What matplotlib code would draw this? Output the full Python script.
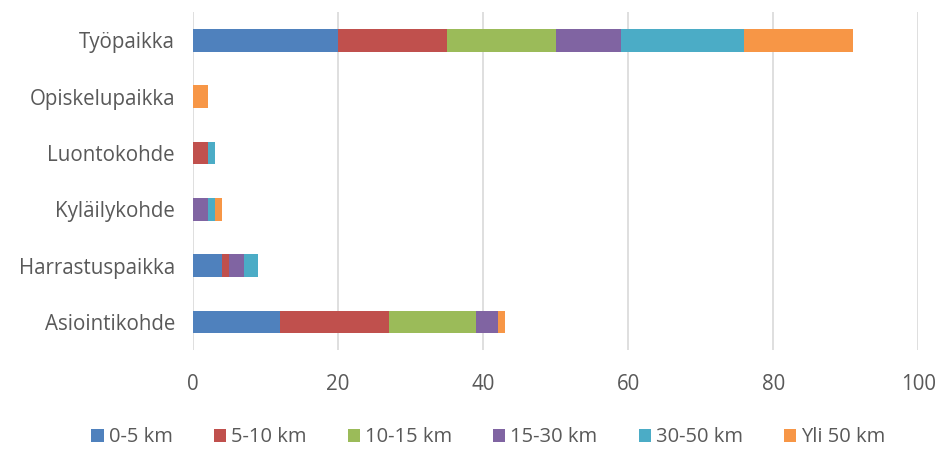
import matplotlib
matplotlib.use('Agg')
import matplotlib.pyplot as plt
import numpy as np

plt.rcParams['font.family'] = ['Open Sans', 'DejaVu Sans']

# kohteet alhaalta ylös
kohteet = ['Asiointikohde', 'Harrastuspaikka', 'Kyläilykohde', 'Luontokohde', 'Opiskelupaikka', 'Työpaikka']
matkat = ['0-5 km', '5-10 km', '10-15 km', '15-30 km', '30-50 km', 'Yli 50 km']

km0_5 = [12, 4, 0, 0, 0, 20]
km5_10 = [15, 1, 0, 2, 0, 15]
km10_15 = [12, 0, 0, 0, 0, 15]
km15_30 = [3, 2, 2, 0, 0, 9]
km30_50 = [0, 2, 1, 1, 0, 17]
yli50 = [1, 0, 1, 0, 2, 15]

varit = ['#4F81BD', '#C0504D', '#9BBB59', '#8064A2', '#4BACC6', '#F79646']

fig = plt.figure(figsize=(9.43, 4.5), dpi=100)
ax = fig.add_axes([0.2047, 0.222, 0.769, 0.751])

y = np.arange(len(kohteet))
vasen = np.zeros(len(kohteet))
for arvot, nimi, vari in zip([km0_5, km5_10, km10_15, km15_30, km30_50, yli50], matkat, varit):
    ax.barh(y, arvot, left=vasen, height=0.4, color=vari, label=nimi)
    vasen += np.array(arvot)

ax.set_xlim(0, 100)
ax.set_ylim(-0.5, len(kohteet) - 0.5)
ax.set_xticks(range(0, 101, 20))
ax.set_yticks(y)
ax.set_yticklabels(kohteet)
ax.xaxis.grid(True, color='#D9D9D9', linewidth=1.2)
ax.set_axisbelow(True)
for s in ax.spines.values():
    s.set_visible(False)
ax.tick_params(axis='both', length=0, labelsize=14.8, colors='#595959')
ax.tick_params(axis='x', pad=17)
ax.tick_params(axis='y', pad=13)

fig.legend(loc='center', bbox_to_anchor=(0.518, 0.028), ncol=6, frameon=False,
           fontsize=14.5, handlelength=0.6, handleheight=0.6, handletextpad=0.25,
           columnspacing=2.05, labelcolor='#595959')

plt.savefig('out.png', dpi=100)
